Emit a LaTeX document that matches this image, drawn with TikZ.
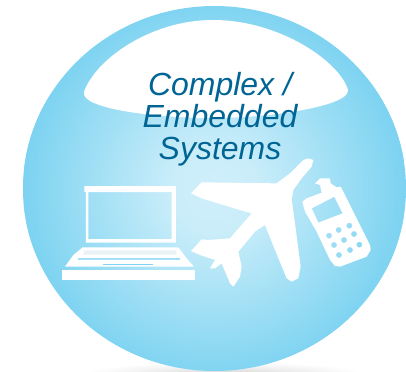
\documentclass[tikz,border=0pt]{standalone}
\usepackage{fontspec}
\setmainfont{Liberation Sans}
\definecolor{bubout}{HTML}{7DD3F1}
\definecolor{bubin}{HTML}{CFEFFA}
\definecolor{captionblue}{HTML}{006595}
\definecolor{keygrey}{HTML}{EAF2F5}
\pgfdeclareradialshading{bubshade}{\pgfpoint{0bp}{0bp}}{color(0bp)=(bubin); color(6bp)=(bubin!92!bubout); color(25bp)=(bubout); color(50bp)=(bubout)}
\pgfdeclareradialshading{shadowshade}{\pgfpoint{0bp}{0bp}}{color(0bp)=(black!16); color(12bp)=(black!7); color(25bp)=(white); color(50bp)=(white)}
\tikzset{
  icon/.style={fill=white,draw=none,even odd rule},
  caption/.style={font=\fontsize{32.1}{32.1}\selectfont\itshape,text=captionblue,align=center,inner sep=0pt}
}
\begin{document}
\begin{tikzpicture}[x=1bp,y=-1bp]
\useasboundingbox (0,0) rectangle (406,372);
% ground shadow
\begin{scope}
  \clip (0,0) rectangle (406,372);
  \node[minimum width=280bp,minimum height=22bp,inner sep=0pt,shading=shadowshade,shade] (shadow) at (225,373) {};
\end{scope}
% bubble
\begin{scope}
  \clip (214.5,188.5) ellipse [x radius=191.5,y radius=182.5];
  \node[minimum width=380bp,minimum height=380bp,inner sep=0pt,shade,shading=bubshade] (bubble) at (214,190) {};
  \fill[bubout,even odd rule] (0,0) rectangle (406,372) (214,190) circle [radius=189.5];
\end{scope}
% white dome
\fill[white] (84,92) .. controls (95,60) and (150,20) .. (213,20)
  .. controls (280,20) and (340,62) .. (348,90)
  .. controls (350,106) and (270,118) .. (215,118)
  .. controls (150,118) and (80,108) .. (84,92) -- cycle;
% laptop
\begin{scope}[shift={(50,170)},x=.33333bp,y=-.33333bp]
  \fill[icon] (103,48) -- (378,48) -- (378,218) -- (108,218) -- (108,66) -- (103,66) -- cycle
    (115,66) -- (365,66) -- (365,207) -- (115,207) -- cycle;
  \fill[icon] (98,232) -- (385,232) -- (410,265) -- (432,290) -- (45,290) -- (70,255) -- cycle;
  \fill[keygrey] (103,241) -- (378,241) -- (380,254) -- (100,254) -- cycle;
  \fill[bubout!70!white] (85,265) -- (390,265) -- (390,269) -- (85,269) -- cycle;
  \fill[bubout] (160,282) -- (310,282) -- (310,285) -- (160,285) -- cycle;
  \fill[icon] (36,300) rectangle (435,330);
\end{scope}
% plane and phone
\begin{scope}[shift={(180,150)},x=.33333bp,y=-.33333bp]
  \fill[icon] (33,130) -- (65,97) -- (290,100) -- (330,70) -- (370,30) -- (385,25) -- (400,30)
    -- (395,50) -- (365,85) -- (340,120) -- (335,150) -- (345,220) -- (362,350) -- (355,385)
    -- (335,395) -- (320,385) -- (285,300) -- (255,225) -- (225,245) -- (175,305) -- (185,350)
    -- (180,380) -- (160,410) -- (150,400) -- (125,340) -- (105,355) -- (90,355) -- (105,330)
    -- (60,315) -- (33,303) -- (65,268) -- (85,270) -- (150,265) -- (215,190) -- (180,180)
    -- (65,145) -- cycle;
  \fill[icon] (405,100) -- (420,85) -- (450,85) -- (452,100) -- (470,112) -- (482,110) -- (490,125)
    -- (520,185) -- (570,285) -- (572,300) -- (560,320) -- (480,350) -- (465,348) -- (450,330)
    -- (410,245) -- (375,185) -- (367,155) -- (380,145) -- (425,128) -- (420,105) -- cycle
    (395,175) -- (463,140) -- (488,190) -- (415,218) -- cycle
    (447,257) circle [radius=9] (476,240) circle [radius=9] (508,227) circle [radius=9]
    (522,252) circle [radius=9] (492,270) circle [radius=9] (462,285) circle [radius=9]
    (510,300) circle [radius=9] (538,284) circle [radius=9] (477,315) circle [radius=9];
\end{scope}
% caption
\node[caption] (caption) at (220,119) {Complex /\\Embedded\\Systems};
\end{tikzpicture}
\end{document}
